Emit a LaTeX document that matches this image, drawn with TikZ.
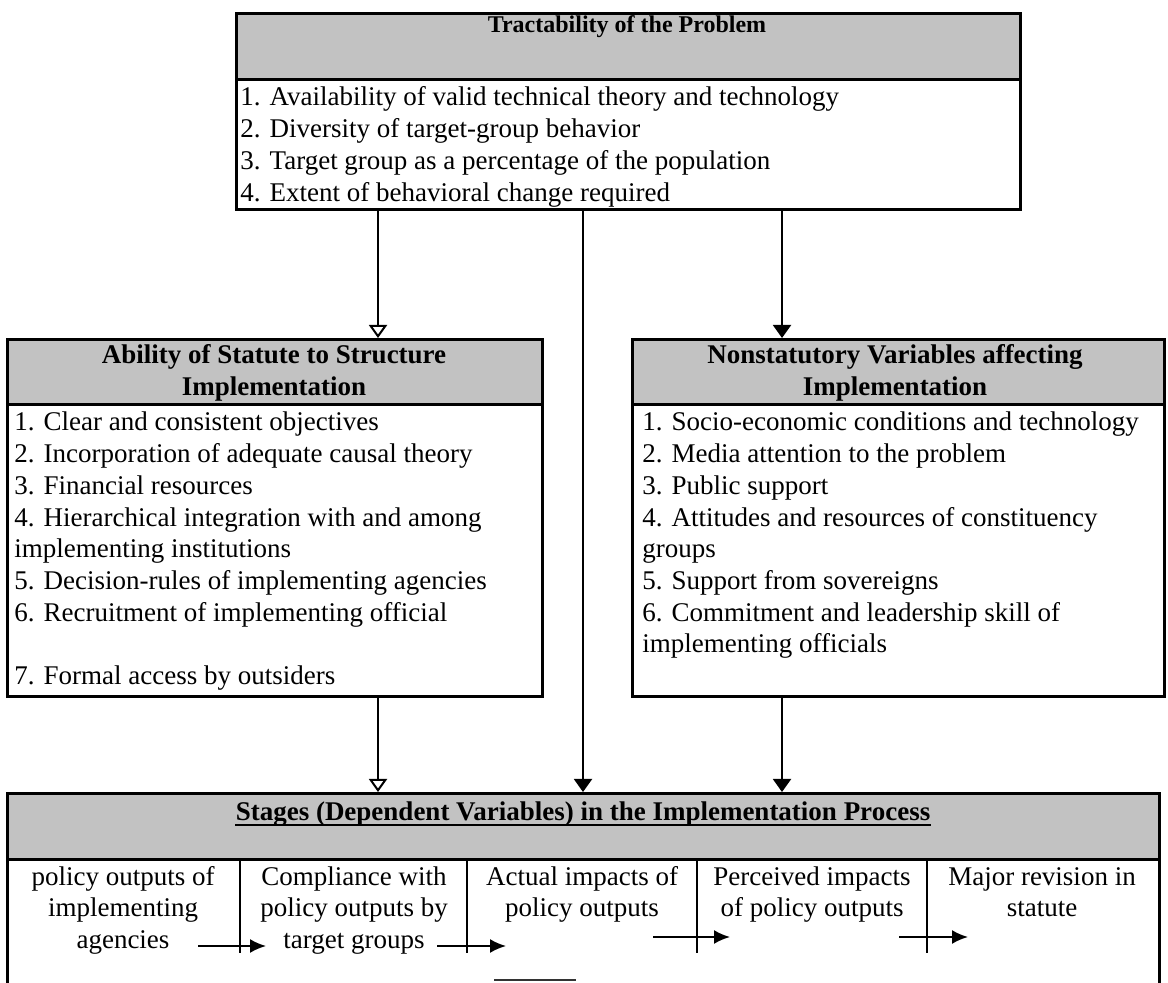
\documentclass[tikz,border=0pt]{standalone}
\usepackage{fontspec}
\setmainfont{Liberation Serif}
\usetikzlibrary{arrows.meta,calc}
\newcommand\txtfont{\fontsize{13.5}{15.85}\selectfont}
\newcommand\smallttlfont{\fontsize{12}{14}\selectfont}

\begin{document}
\begin{tikzpicture}[x=0.5pt,y=-0.5pt,
  box/.style={draw=black, line width=1.3pt, inner sep=0pt, anchor=north west},
  hdr/.style={fill=black!24, draw=black, line width=1.3pt, inner sep=0pt, anchor=north west},
  item/.style={anchor=base west, inner sep=0pt, font=\txtfont},
  ttl/.style={anchor=base, inner sep=0pt, font=\txtfont\bfseries},
  cell/.style={anchor=base, inner sep=0pt, font=\txtfont},
  divider/.style={line width=1.2pt},
  flow/.style={line width=1pt, -{Triangle[length=6.5pt,width=9pt]}},
  flowopen/.style={line width=1pt, -{Triangle[open,length=6.5pt,width=9pt]}},
  stagearrow/.style={line width=1pt, -{Latex[length=8pt,width=7pt]}}
]
\useasboundingbox (0,0) rectangle (1168,983);

% ---- Tractability box ----
\node[hdr, minimum width=392pt, minimum height=33pt] (toph) at (235,12) {};
\node[box, minimum width=392pt, minimum height=98pt] (top) at (235,12) {};
\node[ttl, font=\smallttlfont\bfseries] (topt) at (627,33) {Tractability of the Problem};
\foreach \t [count=\i] in {%
  1. Availability of valid technical theory and technology,
  2. Diversity of target-group behavior,
  3. Target group as a percentage of the population,
  4. Extent of behavioral change required}
  \node[item] (ti\i) at (240,{106+31.7*(\i-1)}) {\t};

% ---- Statute box ----
\node[hdr, minimum width=267.5pt, minimum height=32.5pt] (lefth) at (6,338) {};
\node[box, minimum width=267.5pt, minimum height=178.5pt] (left) at (6,338) {};
\node[ttl] (lt1) at (274,364) {Ability of Statute to Structure};
\node[ttl] (lt2) at (274,395.7) {Implementation};
\foreach \t/\k [count=\i] in {%
  1. Clear and consistent objectives/0,
  2. Incorporation of adequate causal theory/1,
  3. Financial resources/2,
  4. Hierarchical integration with and among/3,
  implementing institutions/4,
  5. Decision-rules of implementing agencies/5,
  6. Recruitment of implementing official/6,
  7. Formal access by outsiders/8}
  \node[item] (li\i) at (14,{431+31.7*\k}) {\t};

% ---- Nonstatutory box ----
\node[hdr, minimum width=266pt, minimum height=32.5pt] (righth) at (631,338) {};
\node[box, minimum width=266pt, minimum height=178.5pt] (right) at (631,338) {};
\node[ttl] (rt1) at (895,364) {Nonstatutory Variables affecting};
\node[ttl] (rt2) at (895,395.7) {Implementation};
\foreach \t [count=\i] in {%
  1. Socio-economic conditions and technology,
  2. Media attention to the problem,
  3. Public support,
  4. Attitudes and resources of constituency,
  groups,
  5. Support from sovereigns,
  6. Commitment and leadership skill of,
  implementing officials}
  \node[item] (ri\i) at (642,{431+31.7*(\i-1)}) {\t};

% ---- Stages box (runs past the lower edge) ----
\node[hdr, minimum width=576pt, minimum height=33pt] (both) at (6,792) {};
\node[box, minimum width=576pt, minimum height=110pt] (bot) at (6,792) {};
\node[ttl] (bt) at (583,820) {Stages (Dependent Variables) in the Implementation Process};
\draw[line width=0.9pt] ($(bt.base west)+(0,5)$) -- ($(bt.base east)+(0,5)$);

\foreach \x in {240,467,697,927}
  \draw[divider] (\x,858) -- (\x,953);

\foreach \cx/\a/\b/\c [count=\i] in {%
  123/policy outputs of/implementing/agencies,
  354/Compliance with/policy outputs by/target groups,
  582/Actual impacts of/policy outputs/,
  812/Perceived impacts/of policy outputs/,
  1042/Major revision in/statute/}{
  \node[cell] (c\i a) at (\cx,885) {\a};
  \node[cell] (c\i b) at (\cx,916.7) {\b};
  \node[cell] (c\i c) at (\cx,948.4) {\c};
}

% arrows between stages
\coordinate (s1a) at (198,946); \coordinate (s1b) at (266,946);
\coordinate (s2a) at (437,946); \coordinate (s2b) at (506,946);
\coordinate (s3a) at (653,937); \coordinate (s3b) at (730,937);
\coordinate (s4a) at (899,937); \coordinate (s4b) at (968,937);
\draw[stagearrow] (s1a) -- (s1b);
\draw[stagearrow] (s2a) -- (s2b);
\draw[stagearrow] (s3a) -- (s3b);
\draw[stagearrow] (s4a) -- (s4b);

% short rule at the lower edge
\draw[line width=1pt, black!80] (494,980) -- (576,980);

% ---- connectors between boxes ----
\coordinate (xl) at (378,0);
\coordinate (xm) at (583,0);
\coordinate (xr) at (782,0);
\draw[flowopen] (top.south -| xl) -- (left.north -| xl);
\draw[flow] (top.south -| xr) -- (right.north -| xr);
\draw[flow] (top.south -| xm) -- (bot.north -| xm);
\draw[flowopen] (left.south -| xl) -- (bot.north -| xl);
\draw[flow] (right.south -| xr) -- (bot.north -| xr);
\end{tikzpicture}
\end{document}
